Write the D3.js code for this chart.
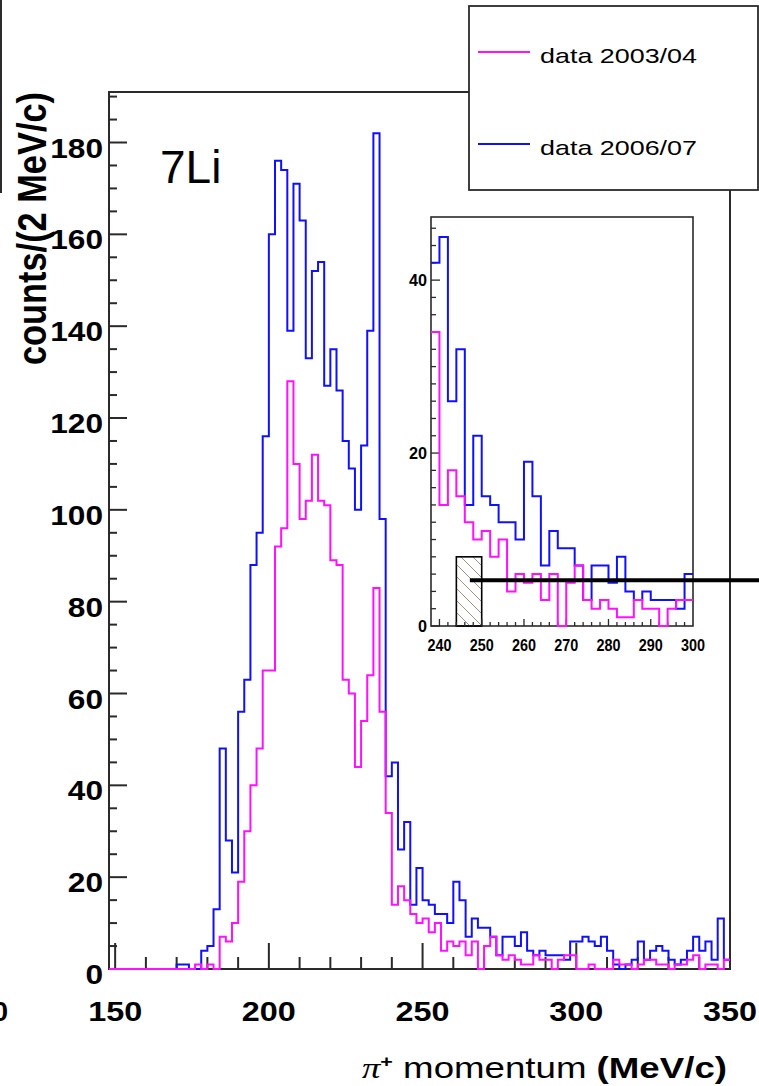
<!DOCTYPE html>
<html>
<head>
<meta charset="utf-8">
<script src="https://cdn.jsdelivr.net/npm/d3@7"></script>
<style>
  html, body { margin: 0; padding: 0; background: #fff; }
  svg { display: block; }
  text { font-family: "Liberation Sans", Arial, Helvetica, sans-serif; fill: #000; }
</style>
</head>
<body>
<svg id="chart" width="759" height="1086"></svg>
<script>
// ---------------- data ----------------
const binStart = 148;          // MeV/c, lower edge of first bin
const binWidth = 2;            // MeV/c per bin
const seriesNames = ["data 2003/04", "data 2006/07"];
// counts per 2 MeV/c bin, 148 ... 350 MeV/c
const counts2003 = [
  0,0,0,0,0,0,0,0,0,0,0,
  0,0,0,1,0,1,0,7,6,10,
  19,30,40,48,65,65,92,96,128,110,
  98,102,112,102,101,89,88,63,60,44,
  54,64,83,56,34,14,18,15,12,10,
  11,8,10,4,6,5,6,3,6,0,
  5,7,3,2,3,2,1,1,3,2,
  2,0,2,3,3,0,0,1,0,0,
  0,2,1,1,0,1,2,2,1,1,
  0,1,1,2,3,0,1,1,0,2
];
const counts2006 = [
  0,0,0,0,0,0,0,0,0,0,0,
  1,1,0,0,4,5,13,48,28,21,
  56,63,88,95,116,160,176,174,139,171,
  163,133,152,154,127,135,126,115,109,100,
  114,139,182,98,42,45,26,32,14,22,
  15,14,12,12,10,19,15,7,11,9,
  9,7,3,7,7,5,8,4,3,4,
  3,3,3,2,6,6,7,6,5,7,
  4,1,0,1,2,6,2,4,5,4,
  2,1,2,4,7,4,6,2,11,2
];
const xRangeMain = [148, 350];
const yRangeMain = [0, 191];
const xTickLabels = [150, 200, 250, 300, 350];
const yTickLabels = [0, 20, 40, 60, 80, 100, 120, 140, 160, 180];
// inset (zoom on the tail)
const xRangeInset = [238, 300];
const yRangeInset = [0, 47.3];
const insetXTickLabels = [240, 250, 260, 270, 280, 290, 300];
const insetYTickLabels = [0, 20, 40];
const hatchRange = [244, 250];
const hatchCount = 8;
const markerStart = 247.2;
const markerLevel = 5.3;
const nucleusLabel = "7Li";
const xTitleParts = ["\u03C0", "+", " momentum ", "(MeV/c)"];
const yTitle = "counts/(2 MeV/c)";

// ---------------- layout ----------------
const svg = d3.select("#chart");
const C = { blue: "#1010ff", magenta: "#ff10ff", frame: "#2a2a2a" };
const M = { left: 109, right: 730, top: 92, bottom: 969 };
const I = { left: 431, right: 693, top: 217, bottom: 626 };

const x = d3.scaleLinear().domain(xRangeMain).range([M.left, M.right]);
const y = d3.scaleLinear().domain(yRangeMain).range([M.bottom, M.top]);
const xi = d3.scaleLinear().domain(xRangeInset).range([I.left, I.right]);
const yi = d3.scaleLinear().domain(yRangeInset).range([I.bottom, I.top]);

function histPoints(counts) {
  const pts = counts.map((c, i) => [binStart + i * binWidth, c]);
  pts.push([binStart + counts.length * binWidth, counts[counts.length - 1]]);
  return pts;
}

// stray frame of neighbouring panel (left edge)
svg.append("line").attr("x1", 1).attr("x2", 1).attr("y1", 0).attr("y2", 193)
  .attr("stroke", C.frame).attr("stroke-width", 2);
svg.append("text").attr("x", 8).attr("y", 1021).attr("text-anchor", "end")
  .attr("font-weight", "bold").attr("font-size", 28).text("0");

// main frame
svg.append("rect").attr("x", M.left).attr("y", M.top)
  .attr("width", M.right - M.left).attr("height", M.bottom - M.top)
  .attr("fill", "none").attr("stroke", C.frame).attr("stroke-width", 2);

// y axis ticks
const yMinor = d3.range(0, 191, 5);
svg.append("g").selectAll("line").data(yMinor).join("line")
  .attr("x1", M.left).attr("x2", d => M.left + (d % 20 === 0 ? 18 : 8))
  .attr("y1", d => y(d)).attr("y2", d => y(d))
  .attr("stroke", C.frame).attr("stroke-width", 2);
svg.append("g").selectAll("text").data(yTickLabels).join("text")
  .attr("x", 103).attr("y", d => y(d) + 15)
  .attr("text-anchor", "end").attr("font-weight", "bold").attr("font-size", 28)
  .attr("textLength", d => String(d).length * 17.6).attr("lengthAdjust", "spacingAndGlyphs")
  .text(d => d);

// x axis ticks
const xMinor = d3.range(150, 351, 10);
svg.append("g").selectAll("line").data(xMinor).join("line")
  .attr("x1", d => x(d)).attr("x2", d => x(d))
  .attr("y1", M.bottom).attr("y2", d => M.bottom - (d % 50 === 0 ? 26 : 12))
  .attr("stroke", C.frame).attr("stroke-width", 2);
svg.append("g").selectAll("text").data(xTickLabels).join("text")
  .attr("x", d => x(d)).attr("y", 1021)
  .attr("text-anchor", "middle").attr("font-weight", "bold").attr("font-size", 28)
  .attr("textLength", d => String(d).length * 18).attr("lengthAdjust", "spacingAndGlyphs")
  .text(d => d);

// histograms (blue below magenta), drawn over the axes
const lineMain = d3.line().x(d => x(d[0])).y(d => y(d[1])).curve(d3.curveStepAfter);
svg.append("path").attr("d", lineMain(histPoints(counts2006)))
  .attr("fill", "none").attr("stroke", C.blue).attr("stroke-width", 2);
svg.append("path").attr("d", lineMain(histPoints(counts2003)))
  .attr("fill", "none").attr("stroke", C.magenta).attr("stroke-width", 2);

// axis titles
const xt = svg.append("text").attr("x", 727).attr("y", 1078).attr("text-anchor", "end")
  .attr("font-size", 29).attr("textLength", 365).attr("lengthAdjust", "spacingAndGlyphs");
xt.append("tspan").attr("font-family", "'Liberation Serif', serif").attr("font-style", "italic").text(xTitleParts[0]);
xt.append("tspan").attr("font-size", 17).attr("dy", -11).attr("font-weight", "bold").text(xTitleParts[1]);
xt.append("tspan").attr("dy", 11).text(xTitleParts[2]);
xt.append("tspan").attr("font-weight", "bold").text(xTitleParts[3]);

svg.append("text").attr("transform", "translate(46,365) scale(1.25,1) rotate(-90)")
  .attr("font-weight", "bold").attr("font-size", 33)
  .attr("textLength", 273).attr("lengthAdjust", "spacingAndGlyphs")
  .text(yTitle);

// nucleus label
svg.append("text").attr("x", 160).attr("y", 183).attr("font-size", 46).text(nucleusLabel);

// ---------------- inset ----------------
svg.append("rect").attr("x", I.left).attr("y", I.top)
  .attr("width", I.right - I.left).attr("height", I.bottom - I.top)
  .attr("fill", "#fff").attr("stroke", C.frame).attr("stroke-width", 1.6);

// hatch pattern
const defs = svg.append("defs");
const pat = defs.append("pattern").attr("id", "hatch").attr("patternUnits", "userSpaceOnUse")
  .attr("width", 12).attr("height", 12);
pat.append("path").attr("d", "M-3,-3 L15,15 M-3,9 L3,15 M9,-3 L15,3")
  .attr("stroke", "#a09282").attr("stroke-width", 1);
svg.append("rect").attr("x", xi(hatchRange[0])).attr("y", yi(hatchCount))
  .attr("width", xi(hatchRange[1]) - xi(hatchRange[0])).attr("height", yi(0) - yi(hatchCount))
  .attr("fill", "url(#hatch)").attr("stroke", "#000").attr("stroke-width", 1.6);

const firstBin = Math.round((xRangeInset[0] - binStart) / binWidth);
const lastBin = Math.round((xRangeInset[1] - binStart) / binWidth);
function insetPoints(counts) {
  const sub = counts.slice(firstBin, lastBin);
  const pts = sub.map((c, i) => [xRangeInset[0] + i * binWidth, c]);
  pts.push([xRangeInset[1], sub[sub.length - 1]]);
  return pts;
}

// inset ticks
svg.append("g").selectAll("line").data(d3.range(0, 47, 2)).join("line")
  .attr("x1", I.left).attr("x2", d => I.left + (d % 20 === 0 ? 9 : 5))
  .attr("y1", d => yi(d)).attr("y2", d => yi(d))
  .attr("stroke", C.frame).attr("stroke-width", 1.3);
svg.append("g").selectAll("line").data(d3.range(240, 300, 2)).join("line")
  .attr("x1", d => xi(d)).attr("x2", d => xi(d))
  .attr("y1", I.bottom).attr("y2", d => I.bottom - (d % 10 === 0 ? 7 : 4))
  .attr("stroke", C.frame).attr("stroke-width", 1.3);
svg.append("g").selectAll("text").data(insetYTickLabels).join("text")
  .attr("x", 427).attr("y", d => yi(d) + 6).attr("text-anchor", "end")
  .attr("font-size", 16).attr("font-weight", "bold")
  .attr("textLength", d => String(d).length * 9).attr("lengthAdjust", "spacingAndGlyphs")
  .text(d => d);
svg.append("g").selectAll("text").data(insetXTickLabels).join("text")
  .attr("x", d => xi(d)).attr("y", 651).attr("text-anchor", "middle")
  .attr("font-size", 16).attr("font-weight", "bold")
  .attr("textLength", d => String(d).length * 8).attr("lengthAdjust", "spacingAndGlyphs")
  .text(d => d);

const lineInset = d3.line().x(d => xi(d[0])).y(d => yi(d[1])).curve(d3.curveStepAfter);
svg.append("path").attr("d", lineInset(insetPoints(counts2006)))
  .attr("fill", "none").attr("stroke", C.blue).attr("stroke-width", 2);
svg.append("path").attr("d", lineInset(insetPoints(counts2003)))
  .attr("fill", "none").attr("stroke", C.magenta).attr("stroke-width", 2);

// annotation marker line
svg.append("line").attr("x1", xi(markerStart)).attr("x2", 759)
  .attr("y1", yi(markerLevel)).attr("y2", yi(markerLevel))
  .attr("stroke", "#000").attr("stroke-width", 4);

// ---------------- legend ----------------
const L = { x: 469, y: 6, w: 289, h: 184 };
svg.append("rect").attr("x", L.x).attr("y", L.y).attr("width", L.w).attr("height", L.h)
  .attr("fill", "#fff").attr("stroke", C.frame).attr("stroke-width", 1.8);
const legendRows = [
  { name: seriesNames[0], color: C.magenta, yLine: 52, yText: 63 },
  { name: seriesNames[1], color: C.blue, yLine: 144, yText: 155 }
];
legendRows.forEach(r => {
  svg.append("line").attr("x1", 478).attr("x2", 530).attr("y1", r.yLine).attr("y2", r.yLine)
    .attr("stroke", r.color).attr("stroke-width", 2);
  svg.append("text").attr("x", 540).attr("y", r.yText).attr("font-size", 21)
    .attr("textLength", 157).attr("lengthAdjust", "spacingAndGlyphs").text(r.name);
});
</script>
</body>
</html>
